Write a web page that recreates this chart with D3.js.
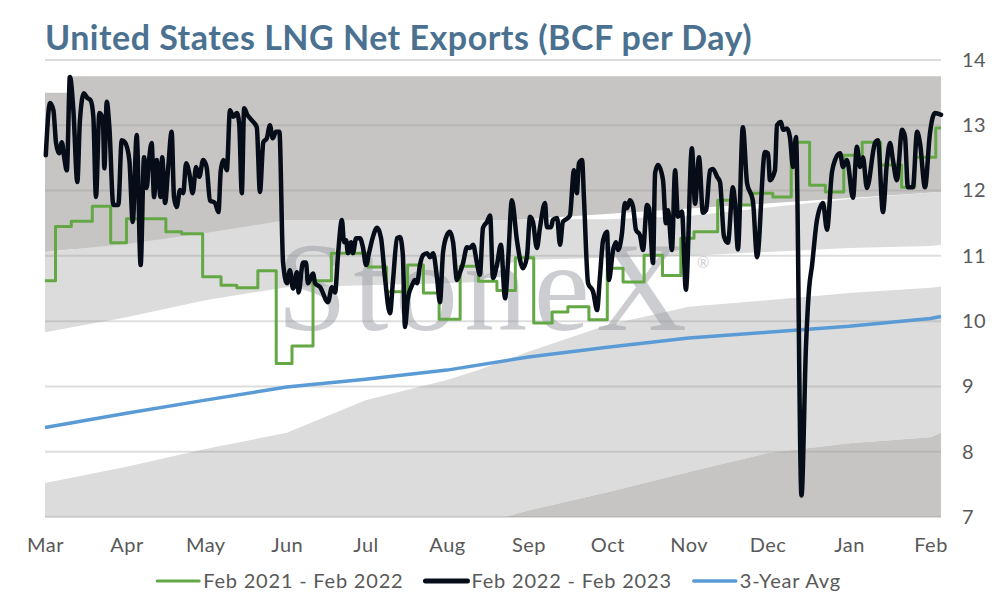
<!DOCTYPE html>
<html>
<head>
<meta charset="utf-8">
<script src="https://cdn.jsdelivr.net/npm/d3@7"></script>
<style>
body { margin: 0; background: #fff; }
text { font-family: Lato, "Open Sans", sans-serif; }
</style>
</head>
<body>
<svg id="chart" width="994" height="600"></svg>
<script>
// season runs Mar 1 -> early Feb, x values are day offsets from Mar 1
var startDate = new Date(2022, 2, 1);
var lastDay = 341;

// historical range bands (BCF/d), sampled at these days
var bandDays  = [0, 31, 61, 92, 122, 153, 165, 175, 184, 214, 245, 275, 306, 337, 341];
var bandLow   = [7.0, 7.0, 7.0, 7.0, 7.0, 7.0, 7.0, 7.0, 7.1, 7.38, 7.69, 7.98, 8.13, 8.22, 8.29];
var bandMidLo = [7.52, 7.77, 8.04, 8.29, 8.79, 9.1, 9.25, 9.4, 9.53, 9.94, 10.22, 10.32, 10.43, 10.51, 10.53];
var bandMidHi = [9.83, 10.06, 10.32, 10.52, 10.55, 10.58, 10.6, 10.88, 10.94, 10.97, 11.0, 11.06, 11.12, 11.15, 11.17];
var bandHigh  = [11.06, 11.18, 11.35, 11.55, 11.55, 11.55, 11.55, 11.55, 11.56, 11.56, 11.61, 11.74, 11.87, 11.97, 11.98];
var maxDays = [0, 8.4, 8.4, 341];
var maxVals = [13.5, 13.5, 13.75, 13.75];

// 3-year average
var avgDays = [0, 31, 61, 92, 122, 153, 184, 214, 245, 275, 306, 337, 341];
var avgVals = [8.37, 8.59, 8.79, 8.99, 9.11, 9.25, 9.45, 9.6, 9.74, 9.83, 9.92, 10.04, 10.07];

// Feb 2021 - Feb 2022 (weekly steps)
var prevDays = [0, 4, 10, 18, 25, 31, 46, 52, 60, 67, 73, 81, 88, 94, 102, 109, 123, 130, 138, 144, 150, 158, 165, 172, 179,
  186, 193, 199, 207, 214, 220, 228, 235, 242, 247, 256, 262, 269, 277, 284, 291, 297, 304, 311, 318, 326, 331, 339, 341];
var prevVals = [10.62, 11.45, 11.53, 11.76, 11.2, 11.57, 11.37, 11.34, 10.68, 10.55, 10.51, 10.77, 9.35, 9.62, 10.62, 11.04, 10.83, 10.45, 10.86, 10.43, 10.03, 10.84, 10.61, 10.47, 10.97,
  9.97, 10.14, 10.22, 10.02, 10.81, 10.6, 11.01, 10.7, 11.27, 11.37, 11.85, 11.78, 11.96, 11.9, 12.74, 12.08, 11.98, 12.54, 12.74, 12.39, 12.05, 12.51, 12.96, 12.96];

// Feb 2022 - Feb 2023 (daily)
var curDays = [0.3,1.9,3.2,4.2,5.4,6.4,7.3,8.3,9.5,10.8,12.3,13.3,14.8,16.1,17.4,18.4,19.4,20.7,22.0,22.6,
  23.5,24.5,26.0,27.9,29.2,30.4,32.1,33.4,34.9,36.4,37.7,38.7,39.6,40.6,41.5,42.5,44.0,44.6,45.7,46.9,
  48.2,49.1,50.1,51.4,52.6,53.7,54.9,56.2,57.5,58.7,60.2,61.5,62.8,64.7,66.0,66.9,67.9,69.2,70.4,71.7,
  73.0,73.9,74.9,75.8,77.0,78.0,79.3,80.6,81.8,83.1,84.4,85.6,86.7,87.9,89.2,90.6,92.1,93.2,94.4,95.9,
  96.5,98.2,99.3,100.1,102.0,102.8,104.7,107.7,109.2,110.4,111.5,113.0,113.8,114.6,115.3,116.5,117.2,118.4,119.9,121.0,
  122.2,123.3,124.8,126.4,127.9,129.4,131.3,132.4,134.0,135.1,136.2,137.0,138.1,139.7,140.8,141.6,142.7,143.9,145.4,146.5,
  147.7,149.2,150.3,151.5,153.0,154.1,155.3,156.8,157.9,159.1,160.6,161.7,162.9,164.4,165.5,166.7,168.2,169.4,170.5,172.0,
  173.5,175.1,176.2,177.7,179.6,181.9,183.4,184.6,185.7,187.2,188.4,190.3,191.0,192.6,193.3,194.9,196.0,197.1,199.0,199.8,
  201.3,202.4,203.2,204.4,205.1,206.7,208.6,210.1,211.2,212.4,213.9,214.6,216.2,217.3,218.1,219.6,220.7,221.5,222.6,223.8,
  224.9,226.4,227.6,229.1,229.9,231.4,232.2,233.3,235.2,236.3,237.1,238.6,239.8,240.9,242.4,243.9,246.2,247.4,248.9,250.4,
  251.6,253.1,254.2,255.8,256.9,258.4,259.9,261.8,262.6,263.7,265.6,267.2,269.4,271.0,274.0,275.2,275.9,277.8,278.6,280.1,
  280.9,282.4,283.5,284.7,285.8,287.9,289.6,290.8,291.9,293.8,296.1,297.6,299.5,300.7,302.6,303.7,305.2,307.5,309.0,310.2,
  311.3,312.8,315.9,317.0,318.9,320.4,321.6,322.7,324.2,326.2,327.3,328.4,330.3,331.9,333.0,334.9,336.8,338.7,341.0];
var curVals = [12.54,13.34,13.23,12.73,12.57,12.74,12.51,12.31,13.74,13.23,12.13,13.08,13.49,13.42,13.38,13.13,11.9,13.19,13.11,12.34,
  13.36,12.97,11.78,11.78,12.77,12.74,12.47,11.52,12.85,10.86,12.51,12.04,12.47,12.73,11.9,12.47,11.9,12.51,11.81,12.36,
  12.9,11.9,11.75,12.01,11.96,12.42,12.27,11.96,12.36,12.21,12.47,12.36,11.85,11.81,11.67,12.31,12.47,12.31,13.23,13.13,
  13.19,13.03,11.96,13.26,13.16,13.11,13.05,12.97,11.98,12.74,12.8,13.0,12.8,12.9,12.9,10.9,10.58,10.78,10.5,10.75,
  10.44,10.9,10.9,10.58,10.73,10.58,10.52,10.29,10.52,10.44,11.01,11.55,11.21,11.24,11.04,11.21,11.04,11.27,11.27,11.13,
  10.86,11.04,11.29,11.43,11.27,10.66,10.12,10.6,11.27,11.29,11.01,9.91,10.35,10.55,10.63,10.58,10.86,11.01,11.04,10.98,
  11.04,10.66,10.29,11.06,11.32,11.37,11.21,10.63,10.74,10.89,11.13,11.12,11.17,10.89,10.71,11.43,11.52,11.62,10.66,10.86,
  11.17,10.35,10.9,11.85,11.24,10.81,10.98,11.6,11.52,11.12,11.44,11.81,11.44,11.44,11.55,11.58,11.17,11.52,11.58,11.62,
  12.31,11.96,12.42,12.47,11.9,10.58,10.45,10.17,10.68,11.24,11.37,10.63,11.09,11.21,11.09,11.35,11.81,11.73,11.85,11.75,
  11.4,11.32,11.09,11.78,11.73,10.89,12.27,12.39,12.16,11.5,11.7,11.09,12.31,11.6,11.68,10.48,12.65,11.8,12.51,11.66,
  11.7,12.31,12.33,12.21,12.13,11.3,11.2,12.05,11.81,11.1,12.97,12.11,11.85,10.98,12.59,12.57,12.16,12.31,13.0,13.05,
  12.93,12.95,12.82,12.36,12.82,7.33,9.6,10.5,10.85,11.55,11.81,11.4,12.28,12.47,12.57,12.36,12.47,11.89,12.67,12.36,
  12.51,12.04,12.73,12.77,11.67,12.42,12.73,12.47,12.16,12.93,12.82,12.05,12.05,12.9,12.73,12.05,12.88,13.19,13.16];

var yTicks = [7, 8, 9, 10, 11, 12, 13, 14];
var seriesNames = ['Feb 2021 - Feb 2022', 'Feb 2022 - Feb 2023', '3-Year Avg'];
var seriesColors = ['#63a844', '#060d18', '#5b9bd5'];
var seriesWidths = [3, 5, 3.5];

var svg = d3.select('#chart');
var plotL = 45, plotR = 941, plotT = 60, plotB = 517;

function dayDate(d) {
    return new Date(startDate.getTime() + d * 864e5);
}

var x = d3.scaleTime().domain([startDate, dayDate(lastDay)]).range([plotL, plotR]);
var y = d3.scaleLinear().domain([7, 14]).range([plotB, plotT]);

function zip(days, vals) {
    return days.map(function(d, i) { return {date: dayDate(d), v: vals[i]}; });
}

// title
svg.append('text')
    .attr('x', 45).attr('y', 50)
    .attr('fill', '#4a7290')
    .style('font-size', '34px').style('font-weight', 'bold')
    .style('letter-spacing', '0.5px')
    .text('United States LNG Net Exports (BCF per Day)');

// bands
var gBands = svg.append('g');
var highAt = d3.scaleLinear().domain(bandDays).range(bandHigh);

var bandRows = bandDays.map(function(d, i) {
    return {date: dayDate(d), low: bandLow[i], midLo: bandMidLo[i], midHi: bandMidHi[i], high: bandHigh[i]};
});
var topRows = maxDays.map(function(d, i) {
    return {date: dayDate(d), lo: highAt(d), hi: maxVals[i]};
});

function band(lo, hi) {
    return d3.area()
        .x(function(r) { return x(r.date); })
        .y0(function(r) { return y(lo(r)); })
        .y1(function(r) { return y(hi(r)); });
}

gBands.append('path').datum(topRows)
    .attr('fill', '#c6c5c3')
    .attr('d', band(function(r) { return r.lo; }, function(r) { return r.hi; }));
gBands.append('path').datum(bandRows)
    .attr('fill', '#dcdcdc')
    .attr('d', band(function(r) { return r.midHi; }, function(r) { return r.high; }));
gBands.append('path').datum(bandRows)
    .attr('fill', '#dcdcdc')
    .attr('d', band(function(r) { return r.low; }, function(r) { return r.midLo; }));
gBands.append('path').datum(bandRows)
    .attr('fill', '#c6c5c3')
    .attr('d', band(function() { return 7; }, function(r) { return r.low; }));

// gridlines
svg.append('g').selectAll('line')
    .data(yTicks).enter().append('line')
    .attr('x1', plotL).attr('x2', plotR)
    .attr('y1', function(d) { return y(d); })
    .attr('y2', function(d) { return y(d); })
    .attr('stroke', 'rgba(150,150,150,0.32)')
    .attr('stroke-width', 2);

// watermark
var wm = svg.append('g').attr('fill', '#9a9ca3').attr('opacity', 0.5);
wm.append('text')
    .attr('x', 277).attr('y', 330)
    .attr('textLength', 410).attr('lengthAdjust', 'spacing')
    .style('font-family', '"Liberation Serif", serif')
    .style('font-size', '126px')
    .text('StoneX');
wm.append('text')
    .attr('x', 697).attr('y', 268)
    .style('font-size', '15px')
    .text('\u00AE');

// series
var line = d3.line()
    .x(function(p) { return x(p.date); })
    .y(function(p) { return y(p.v); });

svg.append('path').datum(zip(avgDays, avgVals))
    .attr('fill', 'none').attr('stroke', seriesColors[2]).attr('stroke-width', seriesWidths[2])
    .attr('d', line);

svg.append('path').datum(zip(prevDays, prevVals))
    .attr('fill', 'none').attr('stroke', seriesColors[0]).attr('stroke-width', seriesWidths[0])
    .attr('stroke-linejoin', 'round')
    .attr('d', line.curve(d3.curveStepAfter));

svg.append('path').datum(zip(curDays, curVals))
    .attr('fill', 'none').attr('stroke', seriesColors[1]).attr('stroke-width', 4.5)
    .attr('stroke-linejoin', 'round').attr('stroke-linecap', 'round')
    .attr('d', line.curve(d3.curveMonotoneX));

// axes
var xAxis = d3.axisBottom(x)
    .tickValues(d3.timeMonth.range(startDate, dayDate(lastDay)))
    .tickFormat(d3.timeFormat('%b'))
    .tickSize(0).tickPadding(21);
var gx = svg.append('g').attr('transform', 'translate(0,' + plotB + ')').call(xAxis);

var yAxis = d3.axisRight(y).tickValues(yTicks).tickFormat(d3.format('d')).tickSize(0).tickPadding(21);
var gy = svg.append('g').attr('transform', 'translate(' + plotR + ',0)').call(yAxis);

[gx, gy].forEach(function(g) {
    g.select('.domain').remove();
    g.selectAll('text').attr('fill', '#595959')
        .style('font-size', '20px').style('font-family', 'Lato, sans-serif')
        .style('letter-spacing', '0.5px');
});

// legend
var gLeg = svg.append('g');
var cursor = 0;
seriesNames.forEach(function(name, i) {
    var item = gLeg.append('g').attr('transform', 'translate(' + cursor + ',0)');
    item.append('line')
        .attr('x1', 0).attr('x2', 42).attr('y1', 581).attr('y2', 581)
        .attr('stroke', seriesColors[i]).attr('stroke-width', seriesWidths[i])
        .attr('stroke-linecap', 'round');
    var t = item.append('text')
        .attr('x', 46).attr('y', 588)
        .attr('fill', '#595959').style('font-size', '20px')
        .style('letter-spacing', '0.8px')
        .text(name);
    cursor += 46 + t.node().getComputedTextLength() + 22;
});
var legW = cursor - 22;
gLeg.attr('transform', 'translate(' + (499 - legW / 2) + ',0)');
</script>
</body>
</html>
